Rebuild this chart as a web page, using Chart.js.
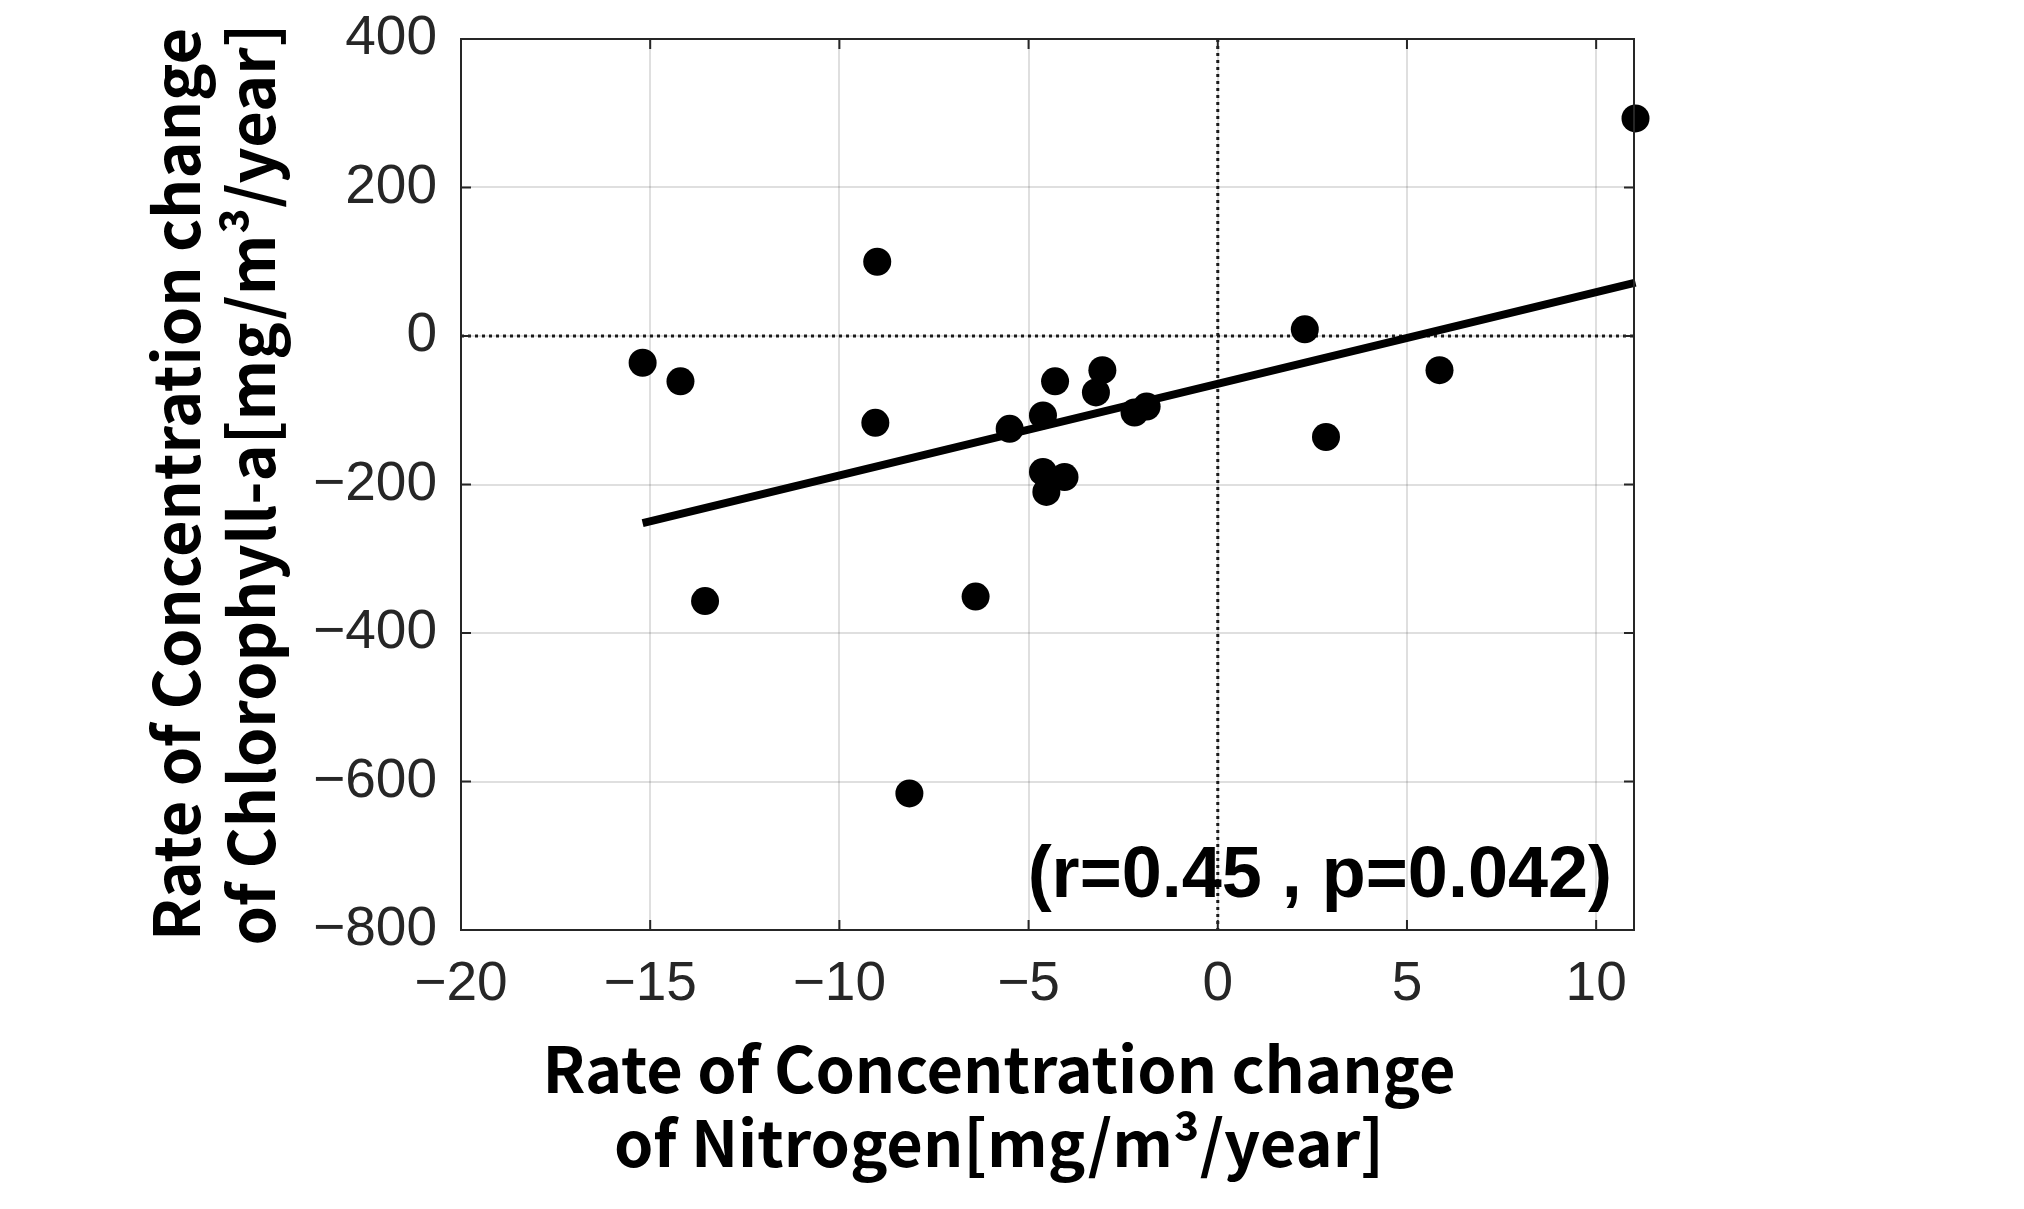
<!DOCTYPE html>
<html>
<head>
<meta charset="utf-8">
<script src="https://cdn.jsdelivr.net/npm/chart.js@4.4.1/dist/chart.umd.min.js"></script>
<style>
  body { margin: 0; background: #fff; }
  canvas { display: block; }
</style>
</head>
<body>
<canvas id="myChart" width="2024" height="1209"></canvas>
<script>
// values
const nitrogen = [-15.2, -14.2, -13.55, -9.0, -9.05, -8.15, -6.4, -5.5, -4.62, -4.3, -3.05, -3.22, -2.2, -1.88, -4.62, -4.05, -4.53, 2.3, 2.86, 5.86, 11.04];
const chlorophyll = [-36, -61, -357, 100, -117, -616, -351, -125, -107, -61, -46, -76, -103, -95, -183, -190, -210, 9, -136, -46, 293];
// regression line end points
const fitX = [-15.2, 11.04];
const fitY = [-252, 72];
const xTicks = [-20, -15, -10, -5, 0, 5, 10];
const yTicks = [-800, -600, -400, -200, 0, 200, 400];

const xTitle = ["Rate of Concentration change", "of Nitrogen[mg/m³/year]"];
const yTitle = ["Rate of Concentration change", "of Chlorophyll-a[mg/m³/year]"];
const statsText = "(r=0.45 , p=0.042)";

const axisColor = "#262626";
const titleFont = "bold 63px 'Noto Sans CJK JP', 'Noto Sans', sans-serif";

const points = nitrogen.map((x, i) => ({x: x, y: chlorophyll[i]}));
const fitLine = fitX.map((x, i) => ({x: x, y: fitY[i]}));

const minus = v => String(v).replace("-", "\u2212");

// no extra room for tick label overflow, the layout padding decides the plot box
const noPad = s => { s.paddingTop = 0; s.paddingBottom = 0; s.paddingLeft = 0; s.paddingRight = 0; };

//draws the box, inward ticks, zero lines and texts
const extras = {
  id: "extras",
  beforeDatasetsDraw(chart) {
    const c = chart.ctx, a = chart.chartArea;
    const x0 = chart.scales.x.getPixelForValue(0);
    const y0 = chart.scales.y.getPixelForValue(0);
    c.save();
    c.strokeStyle = "#1a1a1a";
    c.lineWidth = 3;
    c.setLineDash([3, 4]);
    c.beginPath();
    c.moveTo(x0, a.top); c.lineTo(x0, a.bottom);
    c.moveTo(a.left, y0); c.lineTo(a.right, y0);
    c.stroke();
    c.restore();
  },
  afterDraw(chart) {
    const c = chart.ctx, a = chart.chartArea;
    const xs = chart.scales.x, ys = chart.scales.y;
    c.save();
    c.strokeStyle = axisColor;
    c.lineWidth = 2;
    c.strokeRect(a.left, a.top, a.right - a.left, a.bottom - a.top);
    c.beginPath();
    xTicks.forEach(v => {
      const px = xs.getPixelForValue(v);
      c.moveTo(px, a.bottom); c.lineTo(px, a.bottom - 10);
      c.moveTo(px, a.top); c.lineTo(px, a.top + 10);
    });
    yTicks.forEach(v => {
      const py = ys.getPixelForValue(v);
      c.moveTo(a.left, py); c.lineTo(a.left + 10, py);
      c.moveTo(a.right, py); c.lineTo(a.right - 10, py);
    });
    c.stroke();

    c.fillStyle = "#000";
    c.font = titleFont;
    c.textAlign = "center";
    c.textBaseline = "alphabetic";
    const cx = a.left + 538;
    c.fillText(xTitle[0], cx, a.bottom + 163);
    c.fillText(xTitle[1], cx, a.bottom + 237);

    const cy = (a.top + a.bottom) / 2;
    [200, 275].forEach((bx, i) => {
      c.save();
      c.translate(bx, cy);
      c.rotate(-Math.PI / 2);
      c.fillText(yTitle[i], 0, 0);
      c.restore();
    });

    c.font = "bold 72px 'Liberation Sans', Arial, sans-serif";
    c.textAlign = "right";
    c.fillText(statsText, a.right - 22, a.bottom - 33);
    c.restore();
  }
};

const ctx = document.getElementById("myChart");
const myChart = new Chart(ctx, {
  type: "scatter",
  data: {
    datasets: [
      {
        label: "fit",
        type: "line",
        data: fitLine,
        borderColor: "#000",
        borderWidth: 8,
        pointRadius: 0,
        fill: false,
        clip: false
      },
      {
        label: "lakes",
        data: points,
        backgroundColor: "#000",
        borderWidth: 0,
        pointRadius: 14,
        clip: false
      }
    ]
  },
  options: {
    responsive: false,
    animation: false,
    devicePixelRatio: 1,
    layout: { padding: { left: 0, top: 39, right: 390, bottom: 0 } },
    plugins: { legend: { display: false }, tooltip: { enabled: false } },
    scales: {
      x: {
        type: "linear",
        min: -20,
        max: 11,
        afterFit: s => { s.height = 279; noPad(s); },
        ticks: {
          stepSize: 5,
          includeBounds: false,
          padding: 22,
          color: axisColor,
          font: { family: "'Liberation Sans', Arial, sans-serif", size: 55 },
          callback: v => minus(v)
        },
        grid: { color: "rgba(38,38,38,0.15)", lineWidth: 2, drawTicks: false },
        border: { display: false }
      },
      y: {
        type: "linear",
        min: -800,
        max: 400,
        afterFit: s => { s.width = 461; noPad(s); },
        ticks: {
          stepSize: 200,
          padding: 24,
          color: axisColor,
          font: { family: "'Liberation Sans', Arial, sans-serif", size: 55 },
          callback: v => minus(v)
        },
        grid: { color: "rgba(38,38,38,0.15)", lineWidth: 2, drawTicks: false },
        border: { display: false }
      }
    }
  },
  plugins: [extras]
});
</script>
</body>
</html>
